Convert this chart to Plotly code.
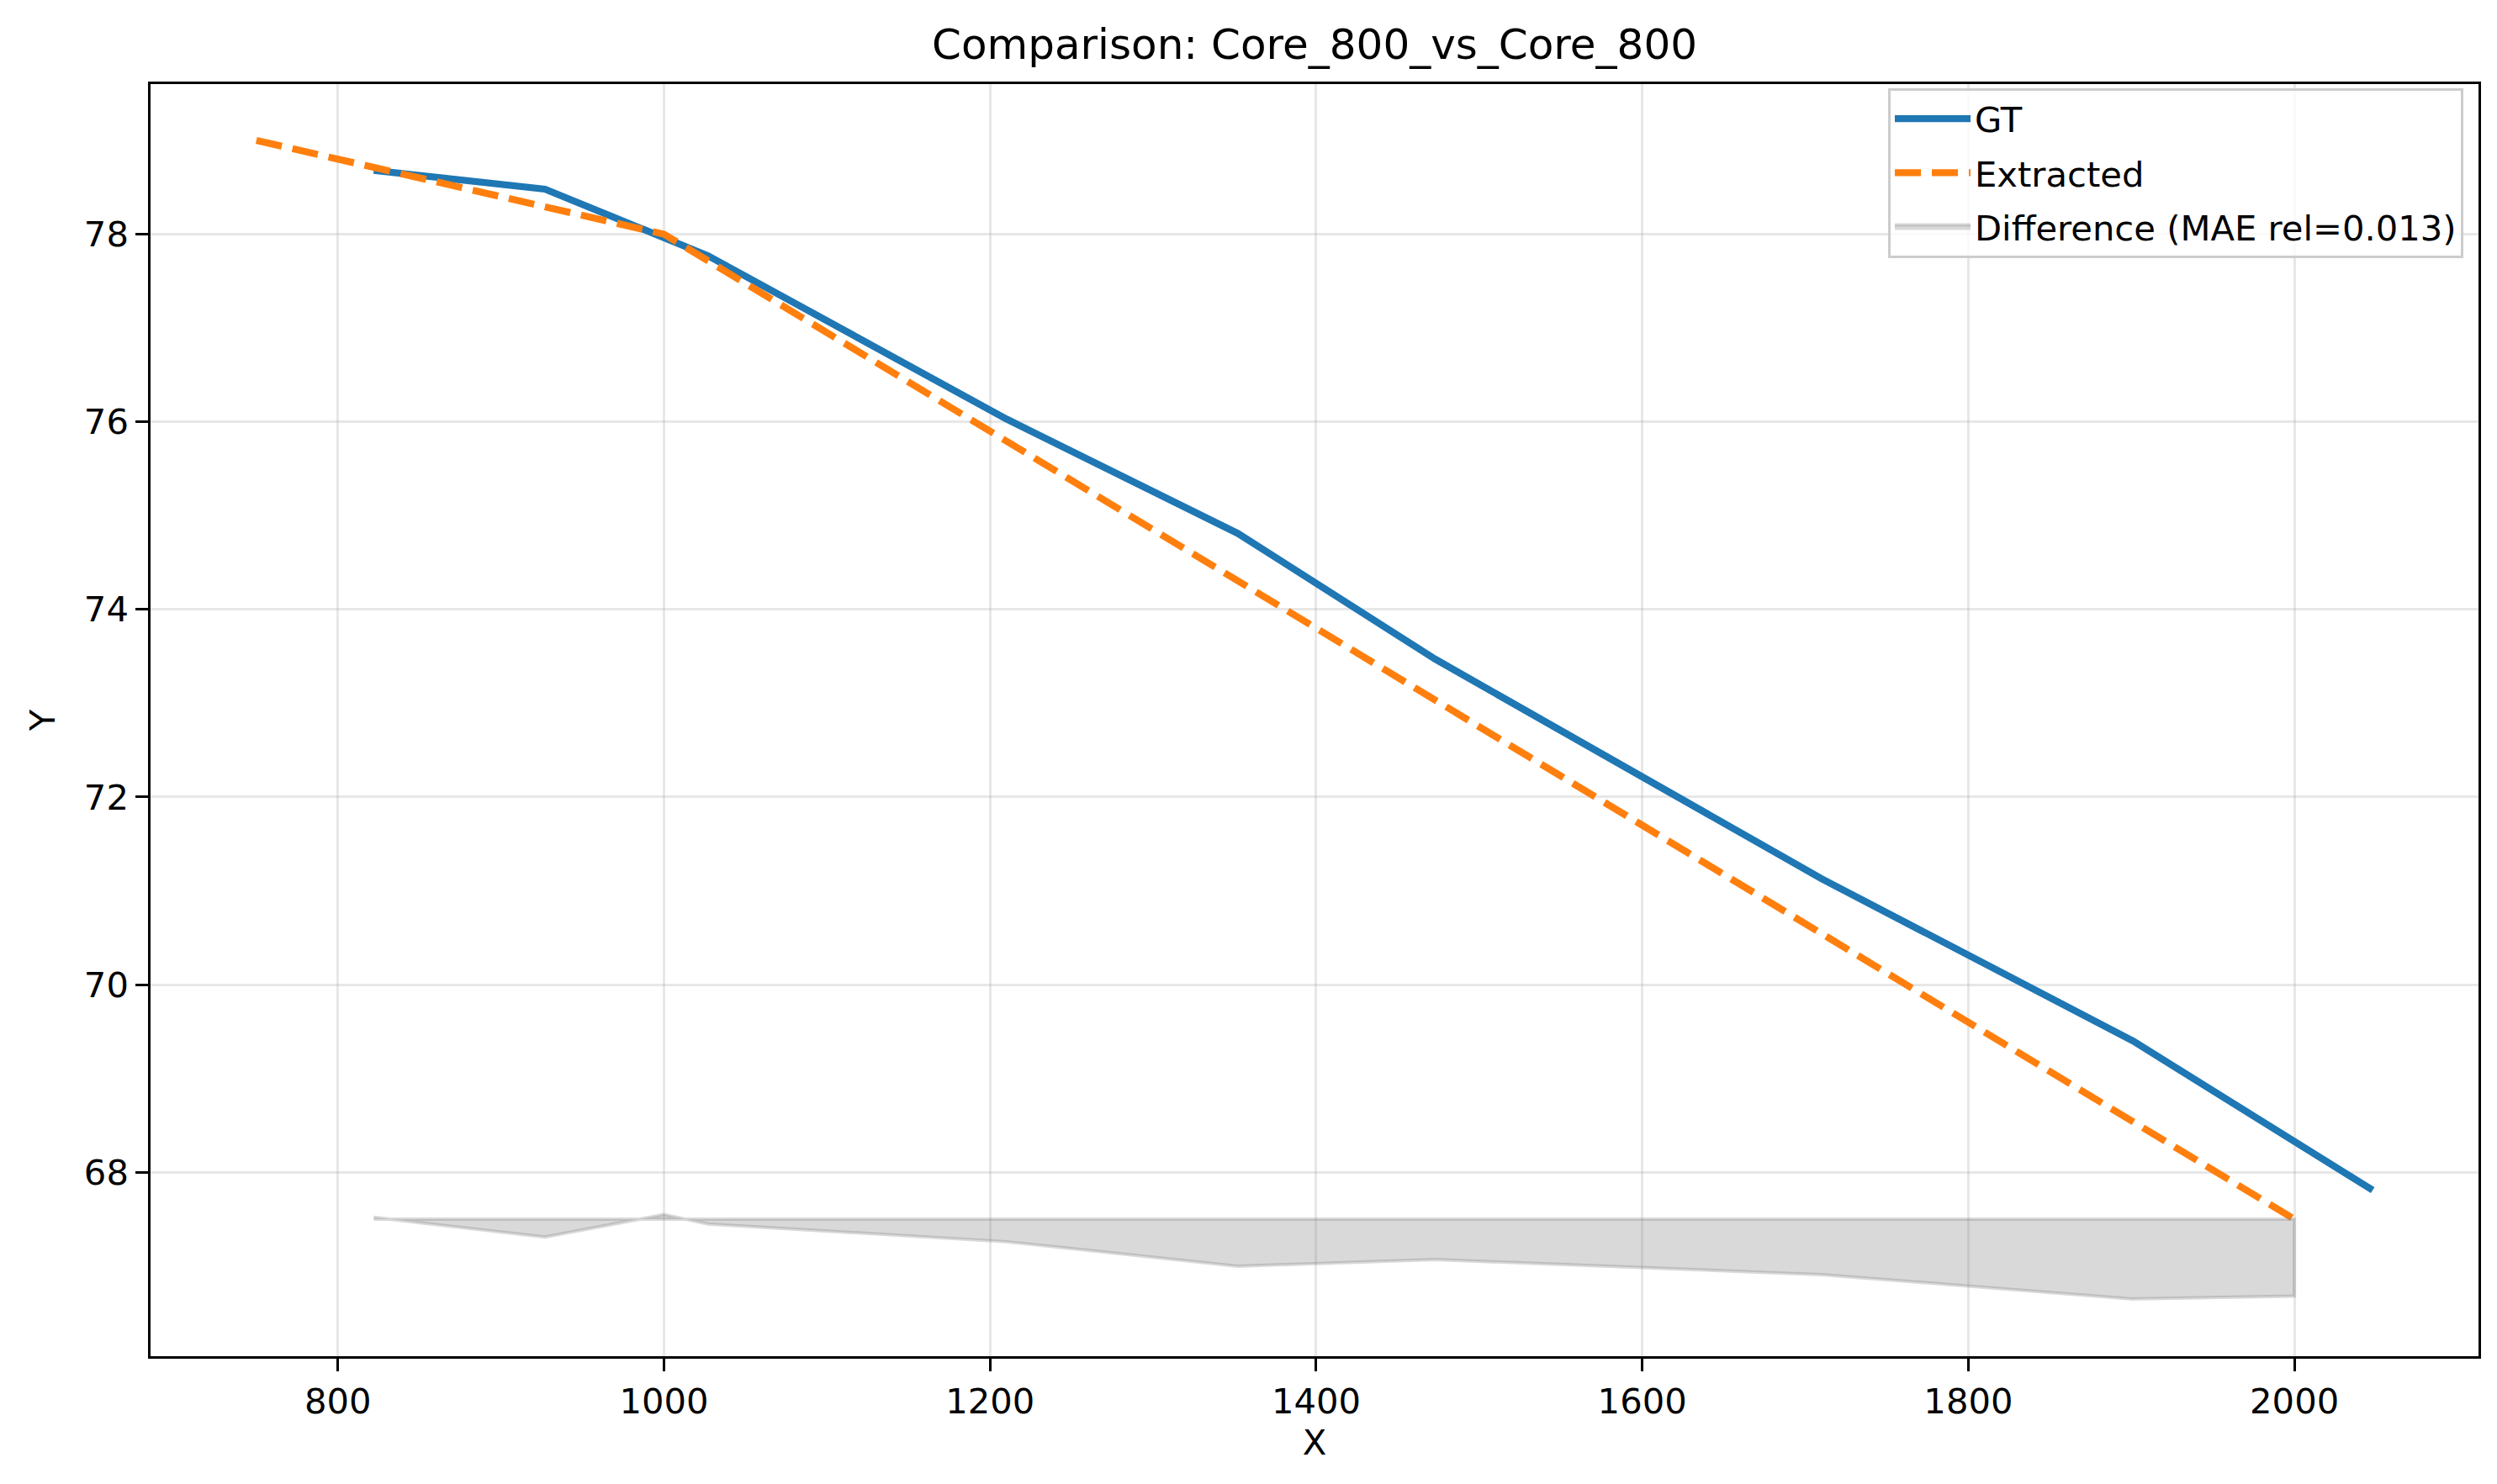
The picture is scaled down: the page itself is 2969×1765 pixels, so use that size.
import plotly.graph_objects as go

# ---- data ----
gt_x = [822, 927, 1027, 1210, 1352, 1473, 1710, 1901, 2048]
gt_y = [78.68, 78.48, 77.77, 76.03, 74.81, 73.47, 71.13, 69.40, 67.81]

ext_x = [750, 1000, 2000]
ext_y = [79.0, 78.0, 67.5]

diff_x = [822, 927, 1000, 1027, 1210, 1352, 1473, 1710, 1901, 2000]
diff_v = [0.02, -0.19, 0.05, -0.05, -0.24, -0.50, -0.43, -0.59, -0.85, -0.82]
diff_base = 67.5

x_ticks = [800, 1000, 1200, 1400, 1600, 1800, 2000]
y_ticks = [68, 70, 72, 74, 76, 78]

title_text = "Comparison: Core_800_vs_Core_800"
legend_names = ["GT", "Extracted", "Difference (MAE rel=0.013)"]

FONT = "DejaVu Sans"
FS = 41.7
W, H = 2969, 1765
L, R, T, B = 171, 30, 92, 160

fig = go.Figure()

fig.add_trace(go.Scatter(
    x=gt_x, y=gt_y, mode="lines", name=legend_names[0], legendgroup="a",
    line=dict(color="#1f77b4", width=8.3),
))
fig.add_trace(go.Scatter(
    x=ext_x, y=ext_y, mode="lines", name=legend_names[1], legendgroup="b",
    line=dict(color="#ff7f0e", width=8.3, dash="31px,13px"),
))

poly_x = diff_x + diff_x[::-1]
poly_y = [diff_base + v for v in diff_v] + [diff_base] * len(diff_x)
fig.add_trace(go.Scatter(
    x=poly_x, y=poly_y, mode="lines", name=legend_names[2], legendgroup="c",
    fill="toself", fillcolor="rgba(128,128,128,0.3)",
    line=dict(color="rgba(128,128,128,0.3)", width=4),
))

axis_common = dict(
    showline=True, linecolor="black", linewidth=3.3, mirror=True,
    ticks="outside", ticklen=14.6, tickwidth=3.3, tickcolor="black",
    showgrid=True, gridcolor="rgba(176,176,176,0.3)", gridwidth=3.3,
    zeroline=False,
    tickfont=dict(family=FONT, size=FS, color="black"),
)

fig.update_layout(
    width=W, height=H,
    margin=dict(l=L, r=R, t=T, b=B),
    paper_bgcolor="white", plot_bgcolor="white",
    font=dict(family=FONT, size=FS, color="black"),
    title=dict(
        text=title_text, x=0.5, xanchor="center", xref="paper",
        y=1, yref="paper", yanchor="bottom", pad=dict(b=30),
        font=dict(family=FONT, size=50, color="black"),
    ),
    xaxis=dict(
        range=[685.1, 2112.9], tickvals=x_ticks,
        title=dict(text="X", standoff=12, font=dict(family=FONT, size=FS)),
        **axis_common,
    ),
    yaxis=dict(
        range=[66.04, 79.6], tickvals=y_ticks,
        title=dict(text="Y", standoff=22, font=dict(family=FONT, size=FS)),
        **axis_common,
    ),
    legend=dict(
        x=0.9935, y=0.997, xanchor="right", yanchor="top",
        bgcolor="rgba(255,255,255,0.8)", bordercolor="#cccccc", borderwidth=3,
        font=dict(family=FONT, size=FS, color="black"),
        itemwidth=90, tracegroupgap=7,
    ),
    showlegend=True,
)

fig.write_html("out.html", config={"displayModeBar": False})
